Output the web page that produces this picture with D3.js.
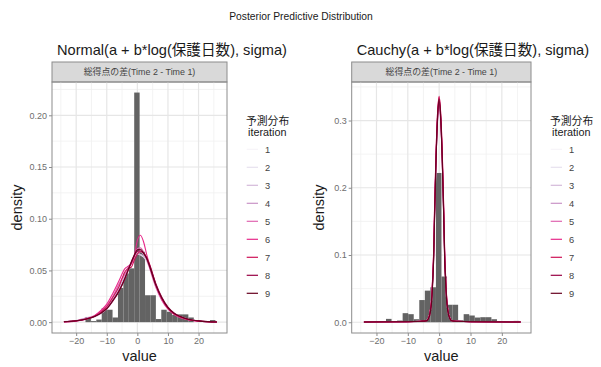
<!DOCTYPE html>
<html>
<head>
<meta charset="utf-8">
<script src="https://cdn.jsdelivr.net/npm/d3@7"></script>
<style>
  html, body { margin: 0; padding: 0; background: #fff; }
  svg { display: block; font-family: "Liberation Sans", "Noto Sans CJK JP", sans-serif; }
</style>
</head>
<body>
<svg id="chart" width="601" height="367"></svg>
<script>
// Observed histogram (density scale), shared by both panels
const binEdges = [-16.96, -15.19, -13.42, -11.65, -9.88, -8.11, -6.34, -4.57, -2.80, -1.03,
  0.74, 2.51, 4.28, 6.05, 7.82, 9.59, 11.36, 13.13, 14.90, 16.67, 18.44, 20.21, 21.98, 23.75, 25.52];
const binDensity = [0.005, 0.001, 0.0025, 0.0135, 0.012, 0.0045, 0.033, 0.047, 0.052, 0.222,
  0.068, 0.026, 0.026, 0.003, 0.012, 0.010, 0.007, 0.0075, 0.0075, 0.0045, 0, 0, 0, 0.002];

// Predictive density curves, Normal model
const normalX = [-24, -20, -17, -14, -12, -10, -8, -6, -4, -3, -2, -1, 0, 1, 2, 3, 4, 6, 8, 10, 12, 14, 17, 20, 23, 26];
const normalIter1 = [0.0004, 0.0013, 0.0028, 0.0055, 0.0085, 0.0130, 0.0210, 0.0300, 0.0430, 0.0500, 0.0570, 0.0630, 0.0670, 0.0680, 0.0660, 0.0610, 0.0540, 0.0370, 0.0235, 0.0140, 0.0085, 0.0055, 0.0025, 0.0012, 0.0005, 0.0002];
const normalIter2 = [0.0003, 0.0012, 0.0030, 0.0060, 0.0090, 0.0125, 0.0200, 0.0310, 0.0440, 0.0520, 0.0590, 0.0640, 0.0660, 0.0650, 0.0630, 0.0590, 0.0530, 0.0380, 0.0240, 0.0145, 0.0090, 0.0055, 0.0025, 0.0012, 0.0005, 0.0002];
const normalIter3 = [0.0004, 0.0014, 0.0032, 0.0050, 0.0080, 0.0130, 0.0220, 0.0330, 0.0460, 0.0540, 0.0560, 0.0620, 0.0660, 0.0655, 0.0640, 0.0600, 0.0540, 0.0360, 0.0225, 0.0135, 0.0080, 0.0050, 0.0022, 0.0010, 0.0004, 0.0002];
const normalIter4 = [0.0005, 0.0015, 0.0040, 0.0060, 0.0085, 0.0135, 0.0215, 0.0310, 0.0430, 0.0510, 0.0580, 0.0640, 0.0680, 0.0685, 0.0660, 0.0610, 0.0530, 0.0350, 0.0220, 0.0135, 0.0085, 0.0055, 0.0025, 0.0010, 0.0004, 0.0002];
const normalIter5 = [0.0004, 0.0012, 0.0030, 0.0065, 0.0105, 0.0160, 0.0250, 0.0370, 0.0470, 0.0520, 0.0580, 0.0650, 0.0710, 0.0720, 0.0680, 0.0610, 0.0520, 0.0340, 0.0210, 0.0125, 0.0075, 0.0045, 0.0020, 0.0009, 0.0004, 0.0002];
const normalIter6 = [0.0003, 0.0010, 0.0025, 0.0060, 0.0110, 0.0175, 0.0280, 0.0400, 0.0520, 0.0540, 0.0560, 0.0640, 0.0790, 0.0840, 0.0780, 0.0660, 0.0550, 0.0360, 0.0220, 0.0130, 0.0075, 0.0045, 0.0020, 0.0009, 0.0004, 0.0002];
const normalIter7 = [0.0004, 0.0013, 0.0030, 0.0058, 0.0095, 0.0150, 0.0240, 0.0345, 0.0490, 0.0520, 0.0530, 0.0600, 0.0660, 0.0680, 0.0670, 0.0630, 0.0560, 0.0370, 0.0230, 0.0135, 0.0080, 0.0050, 0.0022, 0.0010, 0.0004, 0.0002];
const normalIter8 = [0.0004, 0.0012, 0.0028, 0.0055, 0.0085, 0.0130, 0.0205, 0.0300, 0.0425, 0.0500, 0.0575, 0.0640, 0.0685, 0.0690, 0.0665, 0.0620, 0.0550, 0.0375, 0.0240, 0.0145, 0.0088, 0.0056, 0.0026, 0.0012, 0.0005, 0.0002];
const normalIter9 = [0.0004, 0.0013, 0.0028, 0.0055, 0.0085, 0.0130, 0.0210, 0.0300, 0.0430, 0.0505, 0.0580, 0.0650, 0.0700, 0.0705, 0.0670, 0.0620, 0.0540, 0.0360, 0.0230, 0.0140, 0.0085, 0.0055, 0.0025, 0.0012, 0.0005, 0.0002];

// Predictive density curves, Cauchy model
const cauchyX = [-24, -10, -6, -4, -3.5, -3, -2.5, -2.25, -2, -1.75, -1.5, -1.25, -1, -0.5, 0, 0.5, 1, 1.25, 1.5, 1.75, 2, 2.25, 2.5, 3, 3.5, 4, 6, 10, 26];
const cauchyIter1 = [0.0003, 0.0008, 0.0015, 0.0025, 0.0050, 0.0120, 0.0280, 0.0440, 0.0680, 0.0980, 0.1500, 0.1950, 0.2350, 0.2950, 0.3180, 0.2920, 0.2320, 0.1900, 0.1480, 0.0980, 0.0680, 0.0440, 0.0280, 0.0120, 0.0050, 0.0022, 0.0014, 0.0008, 0.0003];
const cauchyIter2 = [0.0003, 0.0008, 0.0015, 0.0025, 0.0052, 0.0125, 0.0290, 0.0450, 0.0700, 0.1000, 0.1520, 0.1980, 0.2380, 0.2990, 0.3220, 0.2950, 0.2350, 0.1930, 0.1500, 0.0990, 0.0690, 0.0445, 0.0285, 0.0122, 0.0050, 0.0022, 0.0014, 0.0008, 0.0003];
const cauchyIter3 = [0.0003, 0.0008, 0.0015, 0.0024, 0.0050, 0.0118, 0.0280, 0.0445, 0.0690, 0.0995, 0.1530, 0.2000, 0.2420, 0.3030, 0.3260, 0.2990, 0.2390, 0.1960, 0.1520, 0.1000, 0.0695, 0.0450, 0.0285, 0.0120, 0.0050, 0.0022, 0.0014, 0.0008, 0.0003];
const cauchyIter4 = [0.0003, 0.0008, 0.0015, 0.0025, 0.0050, 0.0120, 0.0285, 0.0450, 0.0700, 0.1000, 0.1540, 0.2010, 0.2440, 0.3060, 0.3300, 0.3030, 0.2420, 0.1990, 0.1540, 0.1010, 0.0700, 0.0455, 0.0288, 0.0122, 0.0050, 0.0022, 0.0014, 0.0008, 0.0003];
const cauchyIter5 = [0.0003, 0.0008, 0.0015, 0.0025, 0.0052, 0.0125, 0.0292, 0.0460, 0.0710, 0.1020, 0.1550, 0.2000, 0.2420, 0.3000, 0.3250, 0.2990, 0.2400, 0.1980, 0.1530, 0.1010, 0.0700, 0.0455, 0.0290, 0.0124, 0.0051, 0.0022, 0.0014, 0.0008, 0.0003];
const cauchyIter6 = [0.0003, 0.0008, 0.0014, 0.0024, 0.0052, 0.0125, 0.0295, 0.0465, 0.0720, 0.1040, 0.1590, 0.2060, 0.2490, 0.3110, 0.3340, 0.3080, 0.2480, 0.2050, 0.1580, 0.1050, 0.0725, 0.0470, 0.0298, 0.0126, 0.0052, 0.0023, 0.0014, 0.0008, 0.0003];
const cauchyIter7 = [0.0003, 0.0008, 0.0014, 0.0026, 0.0056, 0.0135, 0.0310, 0.0485, 0.0745, 0.1070, 0.1620, 0.2090, 0.2510, 0.3120, 0.3360, 0.3100, 0.2510, 0.2080, 0.1620, 0.1080, 0.0750, 0.0490, 0.0312, 0.0134, 0.0056, 0.0025, 0.0014, 0.0008, 0.0003];
const cauchyIter8 = [0.0003, 0.0008, 0.0015, 0.0022, 0.0046, 0.0110, 0.0265, 0.0420, 0.0660, 0.0960, 0.1490, 0.1960, 0.2400, 0.3030, 0.3280, 0.3010, 0.2390, 0.1950, 0.1490, 0.0970, 0.0665, 0.0425, 0.0268, 0.0112, 0.0046, 0.0021, 0.0014, 0.0008, 0.0003];
const cauchyIter9 = [0.0003, 0.0008, 0.0015, 0.0021, 0.0044, 0.0105, 0.0255, 0.0405, 0.0640, 0.0940, 0.1470, 0.1950, 0.2400, 0.3060, 0.3320, 0.3040, 0.2390, 0.1940, 0.1470, 0.0945, 0.0645, 0.0410, 0.0258, 0.0106, 0.0044, 0.0020, 0.0014, 0.0008, 0.0003];

const iterations = ["1", "2", "3", "4", "5", "6", "7", "8", "9"];
const iterColors = ["#f7f4f9", "#e7e1ef", "#d4b9da", "#c994c7", "#df65b0", "#e7298a", "#ce1256", "#980043", "#67001f"];

const xTicks = [-20, -10, 0, 10, 20];
const xMinor = [-25, -15, -5, 5, 15, 25];
const normalYTicks = [0, 0.05, 0.10, 0.15, 0.20];
const normalYMinor = [0.025, 0.075, 0.125, 0.175, 0.225];
const cauchyYTicks = [0, 0.1, 0.2, 0.3];
const cauchyYMinor = [0.05, 0.15, 0.25, 0.35];

const stripLabel = "総得点の差(Time 2 - Time 1)";
const mainTitle = "Posterior Predictive Distribution";

const svg = d3.select("#chart");

svg.append("text")
  .attr("x", 301).attr("y", 20)
  .attr("text-anchor", "middle")
  .attr("font-size", 10.3)
  .attr("fill", "#1a1a1a")
  .text(mainTitle);

function drawPanel(cfg) {
  const g = svg.append("g");
  const x = d3.scaleLinear().domain([-27.9, 29.3]).range([cfg.left, cfg.right]);
  const y = d3.scaleLinear().domain(cfg.yDomain).range([cfg.bottom, cfg.top]);

  // subtitle
  g.append("text")
    .attr("x", cfg.left + 5).attr("y", 55)
    .attr("font-size", 14.6)
    .attr("fill", "#1a1a1a")
    .text(cfg.title);

  // strip
  g.append("rect")
    .attr("x", cfg.left).attr("y", cfg.stripTop)
    .attr("width", cfg.right - cfg.left).attr("height", cfg.top - cfg.stripTop)
    .attr("fill", "#d9d9d9").attr("stroke", "#8c8c8c").attr("stroke-width", 1);
  g.append("text")
    .attr("x", (cfg.left + cfg.right) / 2).attr("y", (cfg.stripTop + cfg.top) / 2 + 3)
    .attr("text-anchor", "middle")
    .attr("font-size", 8.9)
    .attr("fill", "#444")
    .text(stripLabel);

  // grid
  const grid = g.append("g");
  grid.selectAll(".vminor").data(xMinor.filter(v => x(v) > cfg.left && x(v) < cfg.right)).join("line")
    .attr("x1", d => x(d)).attr("x2", d => x(d)).attr("y1", cfg.top).attr("y2", cfg.bottom)
    .attr("stroke", "#f0f0f0").attr("stroke-width", 0.8);
  grid.selectAll(".hminor").data(cfg.yMinor.filter(v => y(v) > cfg.top && y(v) < cfg.bottom)).join("line")
    .attr("y1", d => y(d)).attr("y2", d => y(d)).attr("x1", cfg.left).attr("x2", cfg.right)
    .attr("stroke", "#f0f0f0").attr("stroke-width", 0.8);
  grid.selectAll(".vmajor").data(xTicks).join("line")
    .attr("x1", d => x(d)).attr("x2", d => x(d)).attr("y1", cfg.top).attr("y2", cfg.bottom)
    .attr("stroke", "#e6e6e6").attr("stroke-width", 1.2);
  grid.selectAll(".hmajor").data(cfg.yTicks).join("line")
    .attr("y1", d => y(d)).attr("y2", d => y(d)).attr("x1", cfg.left).attr("x2", cfg.right)
    .attr("stroke", "#e6e6e6").attr("stroke-width", 1.2);

  // histogram
  g.append("g").selectAll("rect").data(binDensity).join("rect")
    .attr("x", (d, i) => x(binEdges[i]))
    .attr("width", (d, i) => x(binEdges[i + 1]) - x(binEdges[i]))
    .attr("y", d => y(d))
    .attr("height", d => y(0) - y(d))
    .attr("fill", "#636363");

  // density curves
  const line = d3.line()
    .x((d, i) => x(cfg.curveX[i]))
    .y(d => y(d))
    .curve(d3.curveMonotoneX);
  g.append("g").selectAll("path").data(cfg.curves).join("path")
    .attr("d", d => line(d))
    .attr("fill", "none")
    .attr("stroke", (d, i) => iterColors[i])
    .attr("stroke-width", 1.1);

  // border
  g.append("rect")
    .attr("x", cfg.left).attr("y", cfg.top)
    .attr("width", cfg.right - cfg.left).attr("height", cfg.bottom - cfg.top)
    .attr("fill", "none").attr("stroke", "#8c8c8c").attr("stroke-width", 1);

  // axes
  const xAxis = g.append("g").attr("transform", `translate(0,${cfg.bottom})`)
    .call(d3.axisBottom(x).tickValues(xTicks).tickSize(3).tickPadding(2).tickFormat(d3.format("d")));
  xAxis.select(".domain").remove();
  xAxis.selectAll("line").attr("stroke", "#8c8c8c");
  xAxis.selectAll("text").attr("font-size", 9).attr("fill", "#6e6e6e").attr("font-family", null);

  const yAxis = g.append("g").attr("transform", `translate(${cfg.left},0)`)
    .call(d3.axisLeft(y).tickValues(cfg.yTicks).tickSize(3).tickPadding(2).tickFormat(d3.format(cfg.yFormat)));
  yAxis.select(".domain").remove();
  yAxis.selectAll("line").attr("stroke", "#8c8c8c");
  yAxis.selectAll("text").attr("font-size", 9).attr("fill", "#6e6e6e").attr("font-family", null);

  // axis titles
  g.append("text")
    .attr("x", (cfg.left + cfg.right) / 2).attr("y", 361)
    .attr("text-anchor", "middle").attr("font-size", 14.5).attr("fill", "#1a1a1a")
    .text("value");
  g.append("text")
    .attr("transform", `translate(${cfg.yTitleX},${(cfg.top + cfg.bottom) / 2}) rotate(-90)`)
    .attr("text-anchor", "middle").attr("font-size", 14.5).attr("fill", "#1a1a1a")
    .text("density");

  // legend
  const lg = g.append("g");
  lg.append("text").attr("x", cfg.legendX).attr("y", 125)
    .attr("font-size", 10.8).attr("fill", "#1a1a1a").text("予測分布");
  lg.append("text").attr("x", cfg.legendX + 2).attr("y", 135.5)
    .attr("font-size", 10.8).attr("fill", "#1a1a1a").text("iteration");
  const items = lg.selectAll(".item").data(iterations).join("g")
    .attr("transform", (d, i) => `translate(${cfg.legendX},${149.3 + i * 18})`);
  items.append("line").attr("x1", 0.7).attr("x2", 12).attr("y1", 0).attr("y2", 0)
    .attr("stroke", (d, i) => iterColors[i]).attr("stroke-width", 1.2);
  items.append("text").attr("x", 19).attr("y", 3.3)
    .attr("font-size", 9.3).attr("fill", "#444").text(d => d);
}

drawPanel({
  title: "Normal(a + b*log(保護日数), sigma)",
  left: 52, right: 227, top: 82, bottom: 333, stripTop: 62,
  yDomain: [-0.0105, 0.2322], yTicks: normalYTicks, yMinor: normalYMinor, yFormat: ".2f",
  curveX: normalX,
  curves: [normalIter1, normalIter2, normalIter3, normalIter4, normalIter5, normalIter6, normalIter7, normalIter8, normalIter9],
  yTitleX: 22, legendX: 246
});

drawPanel({
  title: "Cauchy(a + b*log(保護日数), sigma)",
  left: 351.7, right: 531, top: 82, bottom: 333, stripTop: 62,
  yDomain: [-0.016, 0.3573], yTicks: cauchyYTicks, yMinor: cauchyYMinor, yFormat: ".1f",
  curveX: cauchyX,
  curves: [cauchyIter1, cauchyIter2, cauchyIter3, cauchyIter4, cauchyIter5, cauchyIter6, cauchyIter7, cauchyIter8, cauchyIter9],
  yTitleX: 324, legendX: 550
});
</script>
</body>
</html>
